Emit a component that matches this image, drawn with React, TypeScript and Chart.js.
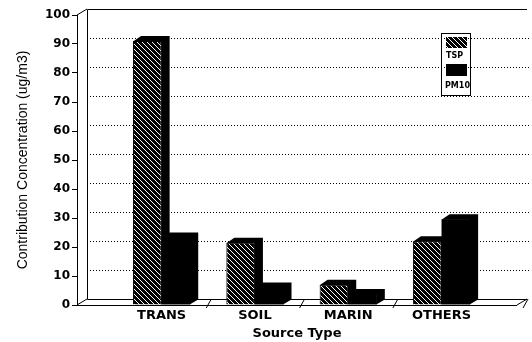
import React, { useEffect, useRef } from 'react';
import { Chart, registerables } from 'chart.js';

Chart.register(...registerables);

// ---- data ----
const categories = ['TRANS', 'SOIL', 'MARIN', 'OTHERS'];
const seriesNames = ['TSP', 'PM10'];
const tspValues = [91, 21.5, 7, 22];
const pm10Values = [23.3, 6, 3.8, 29.6];
const yTickValues = [0, 10, 20, 30, 40, 50, 60, 70, 80, 90, 100];
const yTitle = 'Contribution Concentration (ug/m3)';
const xTitle = 'Source Type';

// ---- 3D geometry ----
const BAR_DX = 8;
const BAR_DY = -5;
const WALL_DX = 10;
const WALL_DY = -6;

function makeHatch(): CanvasPattern | string {
  const c = document.createElement('canvas');
  const n = 5;
  c.width = n;
  c.height = n;
  const g = c.getContext('2d');
  if (!g) return '#000';
  const img = g.createImageData(n, n);
  for (let i = 0; i < n * n; i++) {
    img.data[i * 4] = 0;
    img.data[i * 4 + 1] = 0;
    img.data[i * 4 + 2] = 0;
    img.data[i * 4 + 3] = 255;
  }
  for (let i = 0; i < n; i++) {
    const idx = (i * n + i) * 4;
    img.data[idx] = 255;
    img.data[idx + 1] = 255;
    img.data[idx + 2] = 255;
  }
  g.putImageData(img, 0, 0);
  const p = g.createPattern(c, 'repeat');
  return p || '#000';
}

export default function App() {
  const ref = useRef<HTMLCanvasElement | null>(null);

  useEffect(() => {
    const canvas = ref.current;
    if (!canvas) return;
    const hatch = makeHatch();

    const line = (ctx: CanvasRenderingContext2D, x1: number, y1: number, x2: number, y2: number) => {
      ctx.beginPath();
      ctx.moveTo(x1, y1);
      ctx.lineTo(x2, y2);
      ctx.stroke();
    };

    const threeD = {
      id: 'threeD',
      beforeDatasetsDraw(chart: any) {
        const { ctx, chartArea, scales } = chart;
        const x = scales.x;
        const y = scales.y;
        const L = chartArea.left;
        const R = chartArea.right;
        const y0 = y.getPixelForValue(0);
        const yTop = y.getPixelForValue(100);
        ctx.save();
        ctx.strokeStyle = '#000';
        ctx.lineWidth = 1;
        // dotted gridlines on back wall
        ctx.setLineDash([1, 2]);
        yTickValues.forEach((v) => {
          if (v <= 0 || v >= 100) return;
          const py = Math.round(y.getPixelForValue(v) + WALL_DY) + 0.5;
          line(ctx, L + WALL_DX, py, R + WALL_DX + 2, py);
        });
        ctx.setLineDash([]);
        // back wall top and left edge
        const bt = Math.round(yTop + WALL_DY) + 0.5;
        const bb = Math.round(y0 + WALL_DY) + 0.5;
        const bl = Math.round(L + WALL_DX) + 0.5;
        line(ctx, bl, bt, R + WALL_DX, bt);
        line(ctx, bl, bt, bl, bb);
        // side wall connectors
        line(ctx, L, yTop, L + WALL_DX, yTop + WALL_DY);
        line(ctx, L, y0, L + WALL_DX, y0 + WALL_DY);
        // floor
        const fy = Math.round(y0) + 0.5;
        line(ctx, L, fy, R, fy);
        line(ctx, bl, bb, R + WALL_DX, bb);
        line(ctx, R, y0, R + WALL_DX, y0 + WALL_DY);
        // category separators on floor
        for (let i = 0; i < categories.length - 1; i++) {
          const px = x.getPixelForValue(i + 0.5);
          line(ctx, px - 2, y0 + 3, px + 3, y0 - 6);
        }
        line(ctx, R + WALL_DX - 4, y0 + 3, R + WALL_DX + 1, y0 - 6);
        ctx.restore();
      },
      afterDatasetDraw(chart: any, args: any) {
        const { ctx } = chart;
        const meta = chart.getDatasetMeta(args.index);
        ctx.save();
        ctx.fillStyle = '#000';
        meta.data.forEach((bar: any) => {
          const p = bar.getProps(['x', 'y', 'base', 'width'], true);
          const l = p.x - p.width / 2;
          const r = p.x + p.width / 2;
          ctx.beginPath();
          ctx.moveTo(l, p.y + 0.5);
          ctx.lineTo(l + BAR_DX, p.y + BAR_DY);
          ctx.lineTo(r + BAR_DX, p.y + BAR_DY);
          ctx.lineTo(r + BAR_DX, p.base + BAR_DY);
          ctx.lineTo(r - 0.5, p.base);
          ctx.lineTo(r - 0.5, p.y + 0.5);
          ctx.closePath();
          ctx.fill();
        });
        ctx.restore();
      },
      afterDraw(chart: any) {
        const { ctx } = chart;
        ctx.save();
        ctx.strokeStyle = '#000';
        ctx.lineWidth = 1;
        ctx.strokeRect(441.5, 33.5, 29, 62);
        ctx.fillStyle = hatch as any;
        ctx.fillRect(446, 37, 21, 11);
        ctx.fillStyle = '#000';
        ctx.fillRect(446, 64, 21, 12);
        ctx.font = 'bold 8px "DejaVu Sans"';
        ctx.textBaseline = 'alphabetic';
        ctx.textAlign = 'left';
        ctx.fillText(seriesNames[0], 446, 57.5);
        ctx.fillText(seriesNames[1], 445, 87.5);
        ctx.restore();
      },
    };

    const chart = new Chart(canvas, {
      type: 'bar',
      data: {
        datasets: [
          {
            label: seriesNames[0],
            data: tspValues.map((v, i) => ({ x: i, y: v })),
            backgroundColor: hatch as any,
            borderColor: '#000',
            borderWidth: 1,
          },
          {
            label: seriesNames[1],
            data: pm10Values.map((v, i) => ({ x: i, y: v })),
            backgroundColor: '#000',
            borderWidth: 0,
          },
        ],
      },
      options: {
        responsive: false,
        animation: false,
        events: [],
        layout: { padding: { left: 0, right: 15, top: 15, bottom: 0 } },
        datasets: { bar: { categoryPercentage: 0.613, barPercentage: 1 } },
        plugins: { legend: { display: false }, tooltip: { enabled: false } },
        scales: {
          x: {
            type: 'linear',
            offset: false,
            min: -0.907,
            max: 3.809,
            afterBuildTicks: (ax: any) => {
              ax.ticks = categories.map((_, i) => ({ value: i }));
            },
            afterFit: (s: any) => {
              s.height = 37;
            },
            grid: { display: false, drawTicks: false, tickLength: 0, offset: false },
            border: { display: false },
            ticks: {
              autoSkip: false,
              maxRotation: 0,
              padding: 3,
              color: '#000',
              font: { family: 'DejaVu Sans', weight: 'bold', size: 13 },
              callback: (v: any) => categories[Math.round(Number(v))] ?? '',
            },
            title: {
              display: true,
              text: xTitle,
              color: '#000',
              font: { family: 'DejaVu Sans', weight: 'bold', size: 13 },
              padding: { top: 0, bottom: 1 },
            },
          },
          y: {
            min: 0,
            max: 100,
            afterFit: (s: any) => {
              s.width = 77;
            },
            ticks: {
              stepSize: 10,
              padding: 2,
              color: '#000',
              font: { family: 'DejaVu Sans', weight: 'bold', size: 12 },
            },
            grid: { drawOnChartArea: false, tickLength: 5, color: '#000' },
            border: { display: true, color: '#000', width: 1 },
            title: {
              display: true,
              text: yTitle,
              color: '#000',
              font: { family: 'Liberation Sans', size: 14 },
              padding: { top: 15, bottom: 0 },
            },
          },
        },
      },
      plugins: [threeD],
    } as any);

    return () => chart.destroy();
  }, []);

  return (
    <div style={{ position: 'absolute', left: 0, top: 0, width: 532, height: 342, background: '#fff' }}>
      <canvas ref={ref} width={532} height={342} style={{ width: 532, height: 342 }} />
    </div>
  );
}
